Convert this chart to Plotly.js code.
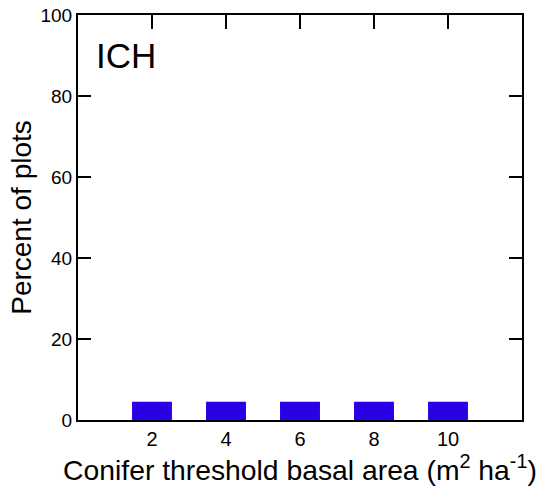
<!DOCTYPE html>
<html>
<head>
<meta charset="utf-8">
<script src="https://cdn.plot.ly/plotly-3.0.1.min.js"></script>
<style>
html,body{margin:0;padding:0;background:#fff;}
#chart{width:544px;height:491px;}
</style>
</head>
<body>
<div id="chart"></div>
<script>
const thresholds = [2, 4, 6, 8, 10];
const percentPlots = [4.5, 4.5, 4.5, 4.5, 4.5];
const xTickVals = [2, 4, 6, 8, 10];
const yTickVals = [0, 20, 40, 60, 80, 100];
const panelLabel = 'ICH';
const xTitle = 'Conifer threshold basal area (m<sup>2</sup> ha<sup>-1</sup>)';
const yTitle = 'Percent of plots';

const font = 'Liberation Sans, Arial, sans-serif';

const trace = {
  type: 'bar',
  x: thresholds,
  y: percentPlots,
  width: 1.08,
  marker: {color: '#2a00e6', line: {width: 0}},
  hoverinfo: 'skip'
};

const layout = {
  width: 544,
  height: 491,
  margin: {l: 78, r: 22, t: 15, b: 71},
  paper_bgcolor: '#fff',
  plot_bgcolor: '#fff',
  showlegend: false,
  font: {family: font, color: '#000'},
  xaxis: {
    range: [0, 12],
    tickvals: xTickVals,
    ticktext: xTickVals.map(String),
    ticks: 'inside',
    ticklen: 14,
    tickwidth: 2,
    tickcolor: '#000',
    showline: true,
    linewidth: 2,
    linecolor: '#000',
    mirror: 'ticks',
    showgrid: false,
    zeroline: false,
    layer: 'below traces',
    tickfont: {size: 20, family: font, color: '#000'},
    title: {text: xTitle, font: {size: 28.3, family: font, color: '#000'}, standoff: 6}
  },
  yaxis: {
    range: [0, 100],
    tickvals: yTickVals,
    ticks: 'inside',
    ticklen: 13,
    tickwidth: 2,
    tickcolor: '#000',
    showline: true,
    linewidth: 2,
    linecolor: '#000',
    mirror: 'ticks',
    showgrid: false,
    zeroline: false,
    tickfont: {size: 19, family: font, color: '#000'},
    title: {text: yTitle, font: {size: 28, family: font, color: '#000'}, standoff: 1}
  },
  annotations: [{
    text: panelLabel,
    xref: 'paper', yref: 'paper',
    x: 0.035, y: 0.9,
    xanchor: 'left', yanchor: 'middle',
    showarrow: false,
    font: {size: 35, family: font, color: '#000'}
  }]
};

Plotly.newPlot('chart', [trace], layout, {staticPlot: true, displayModeBar: false});
</script>
</body>
</html>
